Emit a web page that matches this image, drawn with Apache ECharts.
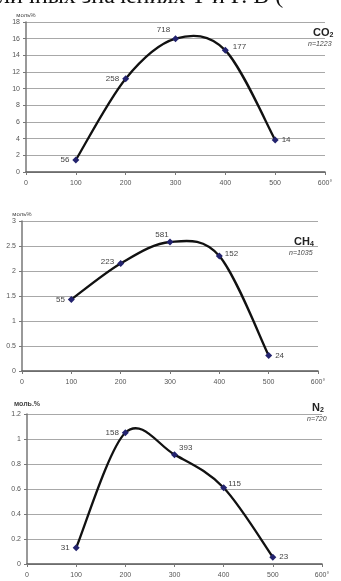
<!DOCTYPE html>
<html>
<head>
<meta charset="utf-8">
<script src="https://cdn.jsdelivr.net/npm/echarts@6/dist/echarts.min.js"></script>
<style>
  html, body { margin: 0; padding: 0; background: #fff; }
  #main { width: 341px; height: 581px; }
</style>
</head>
<body>
<div id="main"></div>
<script>
// температура, °C
const temps = [100, 200, 300, 400, 500];
const xTicks = [0, 100, 200, 300, 400, 500, 600];

// CO2, моль%
const co2Values = [1.45, 11.2, 16.0, 14.6, 3.85];
const co2Counts = [56, 258, 718, 177, 14];
const co2Ticks = [0, 2, 4, 6, 8, 10, 12, 14, 16, 18];

// CH4, моль%
const ch4Values = [1.43, 2.15, 2.58, 2.3, 0.31];
const ch4Counts = [55, 223, 581, 152, 24];
const ch4Ticks = [0, 0.5, 1, 1.5, 2, 2.5, 3];

// N2, моль%
const n2Values = [0.13, 1.05, 0.875, 0.61, 0.055];
const n2Counts = [31, 158, 393, 115, 23];
const n2Ticks = [0, 0.2, 0.4, 0.6, 0.8, 1, 1.2];

const font = "Liberation Sans";
const myChart = echarts.init(document.getElementById("main"));

// положение подписей точек
const labelPos = [
  [["left", [0, 0]], ["left", [0, 0]], ["top", [-12, 2]], ["right", [1, -4]], ["right", [0, 0]]],
  [["left", [0, 0]], ["left", [0, -2]], ["top", [-8, 3]], ["right", [-1, -2]], ["right", [0, 0]]],
  [["left", [0, 0]], ["left", [0, 0]], ["right", [-2, -7]], ["right", [-2, -4]], ["right", [0, 0]]],
];

const panels = [
  { values: co2Values, counts: co2Counts, ticks: co2Ticks, name: "моль%", grid: { left: 26, top: 22, width: 299, height: 150 } },
  { values: ch4Values, counts: ch4Counts, ticks: ch4Ticks, name: "моль%", grid: { left: 22, top: 221, width: 296, height: 150 } },
  { values: n2Values, counts: n2Counts, ticks: n2Ticks, name: "моль.%", grid: { left: 27, top: 414, width: 295, height: 150 } },
];

// сглаженная линия как в Excel (Catmull-Rom -> Bezier), через координаты осей
function smoothPath(pts) {
  let d = "M" + pts[0][0] + " " + pts[0][1];
  for (let k = 0; k < pts.length - 1; k++) {
    const p0 = pts[k - 1] || pts[k];
    const p1 = pts[k];
    const p2 = pts[k + 1];
    const p3 = pts[k + 2] || pts[k + 1];
    const c1 = [p1[0] + (p2[0] - p0[0]) / 6, p1[1] + (p2[1] - p0[1]) / 6];
    const c2 = [p2[0] - (p3[0] - p1[0]) / 6, p2[1] - (p3[1] - p1[1]) / 6];
    d += " C" + c1[0] + " " + c1[1] + " " + c2[0] + " " + c2[1] + " " + p2[0] + " " + p2[1];
  }
  return d;
}

const grids = [], xAxes = [], yAxes = [], seriesArr = [];
panels.forEach((p, i) => {
  grids.push(p.grid);
  xAxes.push({
    type: "value",
    gridIndex: i,
    min: xTicks[0],
    max: xTicks[xTicks.length - 1],
    interval: 100,
    axisLine: { lineStyle: { color: "#5a5a5a", width: 1.5 } },
    axisTick: { show: true, inside: false, length: 3, lineStyle: { color: "#777" } },
    axisLabel: {
      color: "#555",
      fontSize: 7,
      fontFamily: font,
      margin: 8,
      formatter: (v) => (v === 600 ? "600°" : v),
    },
    splitLine: { show: false },
  });
  const step = p.ticks[1] - p.ticks[0];
  yAxes.push({
    type: "value",
    gridIndex: i,
    min: p.ticks[0],
    max: p.ticks[p.ticks.length - 1],
    interval: step,
    name: p.name,
    nameLocation: "end",
    nameGap: i === 2 ? 6 : 3,
    nameTextStyle: {
      color: "#444",
      fontSize: i === 2 ? 7 : 6,
      fontWeight: i === 2 ? "bold" : "normal",
      fontFamily: font,
      align: "center",
    },
    axisLine: { show: true, lineStyle: { color: "#777", width: 1.5 } },
    axisTick: { show: true, inside: false, length: 3, lineStyle: { color: "#777" } },
    axisLabel: { color: "#555", fontSize: 7, fontFamily: font, margin: 6 },
    splitLine: { show: true, lineStyle: { color: "#a8a8a8", width: 1 } },
  });
  // кривая
  seriesArr.push({
    type: "custom",
    xAxisIndex: i,
    yAxisIndex: i,
    data: temps.map((t, k) => [t, p.values[k]]),
    encode: { x: 0, y: 1 },
    renderItem: (params, api) => {
      if (params.dataIndex !== 0) return;
      const pts = temps.map((t, k) => api.coord([t, p.values[k]]));
      return {
        type: "path",
        shape: { pathData: smoothPath(pts) },
        style: { fill: "none", stroke: "#111", lineWidth: 2.3 },
      };
    },
    z: 2,
  });
  // точки и подписи (число проб)
  seriesArr.push({
    type: "line",
    xAxisIndex: i,
    yAxisIndex: i,
    symbol: "diamond",
    symbolSize: 7,
    lineStyle: { opacity: 0 },
    itemStyle: { color: "#23236e" },
    data: temps.map((t, k) => ({
      value: [t, p.values[k]],
      label: { position: labelPos[i][k][0], offset: labelPos[i][k][1] },
    })),
    label: {
      show: true,
      color: "#444",
      fontSize: 8,
      fontFamily: font,
      distance: 3,
      formatter: (d) => p.counts[d.dataIndex],
    },
    z: 3,
  });
});

function titleText(x, y, main, sub, nText) {
  return [
    {
      type: "text",
      left: x,
      top: y,
      style: {
        text: "{a|" + main + "}{b|" + sub + "}",
        rich: {
          a: { fontSize: 11, fontWeight: "bold", fontFamily: font, fill: "#222" },
          b: { fontSize: 7, fontWeight: "bold", fontFamily: font, fill: "#222", padding: [6, 0, 0, 0] },
        },
      },
    },
    {
      type: "text",
      left: x - 5,
      top: y + 14,
      style: { text: nText, fontSize: 7, fontStyle: "italic", fontFamily: font, fill: "#444" },
    },
  ];
}

myChart.setOption({
  backgroundColor: "#fff",
  animation: false,
  grid: grids,
  xAxis: xAxes,
  yAxis: yAxes,
  series: seriesArr,
  graphic: [
    {
      type: "text",
      left: -2,
      top: -15,
      style: {
        text: "личных значениях Т и Р. В (",
        fontSize: 24,
        fontFamily: "Liberation Serif",
        fill: "#111",
      },
    },
    ...titleText(313, 27, "CO", "2", "n=1223"),
    ...titleText(294, 236, "CH", "4", "n=1035"),
    ...titleText(312, 402, "N", "2", "n=720"),
  ],
});
</script>
</body>
</html>
